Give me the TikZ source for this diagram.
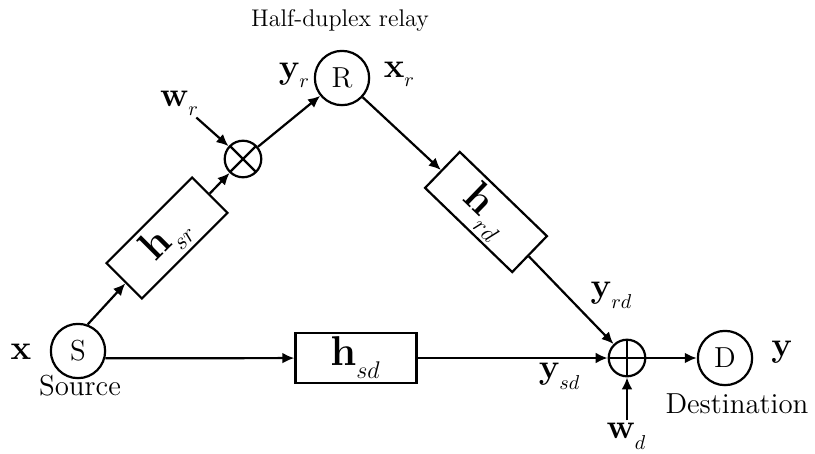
\documentclass[tikz,border=0pt]{standalone}
\usepackage{amsmath}
\usetikzlibrary{arrows.meta, positioning, calc}
\tikzset{
  term/.style    = {circle, draw, line width=1.1pt, minimum size=0.95cm,
                    inner sep=0pt, font=\Large},
  mixer/.style   = {circle, draw, line width=1.1pt, minimum size=0.64cm,
                    inner sep=0pt},
  mult/.style    = {mixer, path picture={
                      \draw[line width=1.1pt]
                        (path picture bounding box.north west) -- (path picture bounding box.south east)
                        (path picture bounding box.north east) -- (path picture bounding box.south west);}},
  summer/.style  = {mixer, path picture={
                      \draw[line width=1.1pt]
                        (path picture bounding box.north) -- (path picture bounding box.south)
                        (path picture bounding box.east) -- (path picture bounding box.west);}},
  chan/.style    = {rectangle, draw, line width=1.1pt, minimum width=2.12cm,
                    minimum height=0.875cm, inner sep=0pt, font=\huge},
  arrow/.style   = {-{Latex[length=2.1mm, width=1.9mm]}, line width=1.1pt},
  sig/.style     = {font=\LARGE, inner sep=1pt},
  caption/.style = {font=\Large, inner sep=1pt},
}

\begin{document}
\begin{tikzpicture}[x=0.0175cm, y=-0.0175cm]
  \useasboundingbox (0,0) rectangle (815,453);

  %--- Terminals ------------------------------------------------------------
  \node[term] at (78,351)  (src)   {S};
  \node[term] at (342,78)  (relay) {R};
  \node[term] at (725,358) (dst)   {D};

  %--- Channel blocks -------------------------------------------------------
  \node[chan, rotate=45]  at (167,238) (hsr) {$\mathbf{h}_{_{sr}}$};
  \node[chan, rotate=-44] at (486,212) (hrd) {$\mathbf{h}_{_{rd}}$};
  \node[chan]             at (356,358) (hsd) {$\mathbf{h}_{_{sd}}$};

  %--- Noise mixers ---------------------------------------------------------
  \node[mult]   at (243,159) (mul) {};
  \node[summer] at (627,358) (add) {};

  %--- Labels ---------------------------------------------------------------
  \node[font=\fontsize{12}{14}\selectfont] at (340,20) (hdlbl) {Half-duplex relay};
  \node[caption] at (80,386)  (srclbl) {Source};
  \node[caption] at (737,404) (dstlbl) {Destination};
  \node[sig] at (21,352)  (xin)  {$\mathbf{x}$};
  \node[sig] at (782,352) (yout) {$\mathbf{y}$};
  \node[sig] at (295,75)  (yr)   {$\mathbf{y}_{_r}$};
  \node[sig] at (400,74)  (xr)   {$\mathbf{x}_{_r}$};
  \node[sig] at (612,295) (yrd)  {$\mathbf{y}_{_{rd}}$};
  \node[sig] at (560,376) (ysd)  {$\mathbf{y}_{_{sd}}$};
  \node[sig] at (180,103) (wr)   {$\mathbf{w}_{_r}$};
  \node[sig] at (627,436) (wd)   {$\mathbf{w}_{_d}$};

  %--- Edges ----------------------------------------------------------------
  % relay branch
  \draw[arrow] (src.70) -- (hsr);
  \draw[arrow] (hsr) -- (mul);
  \draw[arrow] (wr) -- (mul);
  \draw[arrow] (mul) -- (relay);
  \draw[arrow] (relay) -- (hrd);
  \draw[arrow] (hrd) -- (add);

  % direct branch
  \draw[arrow] (src.-15) -- (hsd);
  \draw[arrow] (hsd) -- (add);

  % destination
  \draw[arrow] (wd) -- (add);
  \draw[arrow] (add) -- (dst);

\end{tikzpicture}
\end{document}
